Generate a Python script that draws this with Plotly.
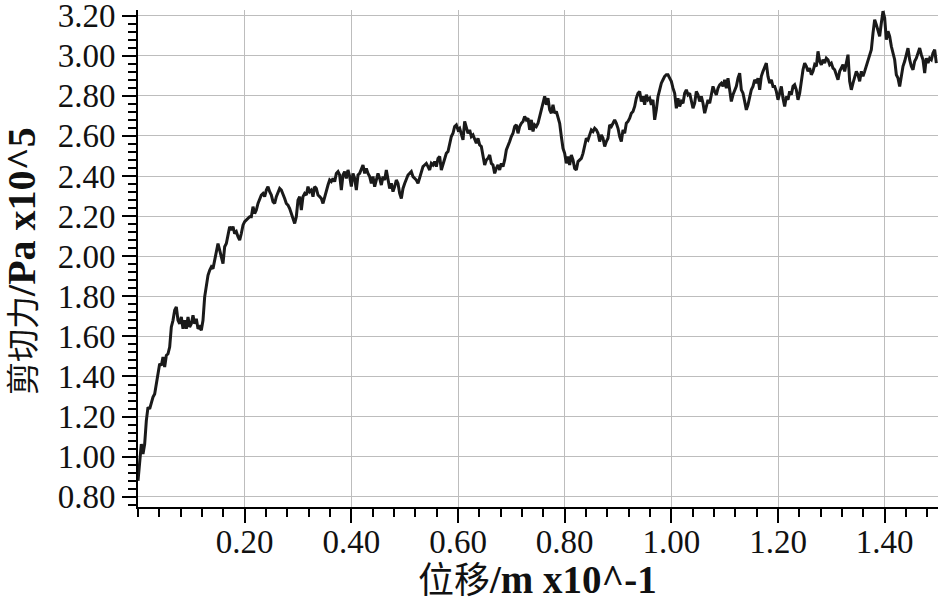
import plotly.graph_objects as go

# Sampling interval of the displacement record (x10^-1 m)
SAMPLE_STEP = 0.003125

# Shear force readings (x10^5 Pa), in order of displacement
shear_part1 = [
    0.88, 0.997, 1.063, 1.013, 1.063, 1.18, 1.247, 1.238, 1.272, 1.297,
    1.313, 1.363, 1.43, 1.463, 1.455, 1.497, 1.447, 1.505, 1.513, 1.547,
    1.647, 1.68, 1.73, 1.747, 1.68, 1.663, 1.697, 1.638, 1.68, 1.638,
    1.697, 1.647, 1.663, 1.705, 1.663, 1.688, 1.638, 1.647, 1.63, 1.68,
    1.797, 1.847, 1.905, 1.93, 1.947, 1.938, 1.98, 2.022, 2.063, 2.03,
    1.997, 1.963, 2.047, 2.063, 2.105, 2.147, 2.13, 2.147, 2.113, 2.122,
    2.097, 2.08, 2.113, 2.155, 2.172, 2.18, 2.188, 2.197, 2.197, 2.247,
    2.213, 2.23, 2.263, 2.288, 2.305, 2.313, 2.297, 2.33, 2.347, 2.322,
    2.305, 2.272, 2.263, 2.297, 2.322, 2.338, 2.33, 2.313, 2.288, 2.263,
    2.255, 2.238, 2.213, 2.188,
]
shear_part2 = [
    2.163, 2.197, 2.28, 2.297, 2.23, 2.297, 2.313, 2.305, 2.347, 2.322,
    2.33, 2.297, 2.347, 2.338, 2.305, 2.297, 2.288, 2.263, 2.297, 2.322,
    2.355, 2.38, 2.372, 2.388, 2.372, 2.413, 2.422, 2.405, 2.33, 2.405,
    2.422, 2.388, 2.43, 2.397, 2.347, 2.413, 2.388, 2.33, 2.405, 2.413,
    2.43, 2.455, 2.413, 2.438, 2.413, 2.397, 2.363, 2.397, 2.347, 2.388,
    2.413, 2.388, 2.355, 2.397, 2.38, 2.43, 2.372, 2.338, 2.363, 2.322,
    2.347, 2.38, 2.363, 2.313, 2.288, 2.338, 2.363, 2.38, 2.405, 2.413,
    2.422, 2.397, 2.388, 2.38, 2.363, 2.388, 2.413, 2.447, 2.455, 2.463,
    2.447, 2.43, 2.463, 2.455, 2.472, 2.447, 2.488, 2.497, 2.43, 2.455,
    2.48, 2.513, 2.522, 2.563, 2.597, 2.613,
]
shear_part3 = [
    2.647, 2.655, 2.63, 2.638, 2.613, 2.58, 2.672, 2.647, 2.613, 2.63,
    2.597, 2.605, 2.58, 2.563, 2.588, 2.555, 2.547, 2.497, 2.455, 2.48,
    2.488, 2.505, 2.463, 2.455, 2.413, 2.438, 2.455, 2.43, 2.463, 2.447,
    2.48, 2.53, 2.547, 2.572, 2.597, 2.613, 2.647, 2.655, 2.613, 2.647,
    2.663, 2.672, 2.697, 2.68, 2.688, 2.63, 2.68, 2.622, 2.655, 2.647,
    2.663, 2.697, 2.738, 2.763, 2.797, 2.755, 2.788, 2.73, 2.713, 2.755,
    2.713, 2.722, 2.697, 2.663, 2.597, 2.538, 2.513, 2.463, 2.497, 2.455,
    2.505, 2.48, 2.438, 2.43, 2.472, 2.48, 2.488, 2.513, 2.547, 2.588,
    2.58, 2.605, 2.63, 2.622, 2.638, 2.63, 2.613, 2.572, 2.605, 2.588,
    2.547, 2.572, 2.588, 2.655, 2.647, 2.663,
]
shear_part4 = [
    2.68, 2.663, 2.638, 2.597, 2.572, 2.63, 2.613, 2.663, 2.672, 2.688,
    2.713, 2.722, 2.747, 2.788, 2.813, 2.822, 2.772, 2.797, 2.755, 2.805,
    2.78, 2.788, 2.755, 2.78, 2.68, 2.73, 2.797, 2.83, 2.863, 2.88,
    2.897, 2.905, 2.905, 2.888, 2.872, 2.838, 2.813, 2.738, 2.788, 2.747,
    2.772, 2.763, 2.813, 2.83, 2.805, 2.813, 2.772, 2.738, 2.763, 2.822,
    2.805, 2.772, 2.797, 2.763, 2.713, 2.755, 2.78, 2.763, 2.813, 2.847,
    2.822, 2.805, 2.838, 2.855, 2.863, 2.847, 2.88, 2.838, 2.888, 2.822,
    2.772, 2.805, 2.83, 2.847, 2.888, 2.913, 2.83, 2.813, 2.772, 2.73,
    2.755, 2.788, 2.83, 2.847, 2.88, 2.863, 2.888, 2.83, 2.897, 2.922,
    2.947, 2.963, 2.897, 2.863, 2.88, 2.847,
]
shear_part5 = [
    2.847, 2.822, 2.78, 2.813, 2.847, 2.788, 2.747, 2.797, 2.78, 2.822,
    2.805, 2.847, 2.855, 2.83, 2.78, 2.813, 2.88, 2.93, 2.963, 2.947,
    2.922, 2.938, 2.905, 2.922, 2.955, 2.947, 3.022, 2.972, 2.955, 2.98,
    2.963, 2.988, 2.98, 2.955, 2.963, 2.938, 2.93, 2.905, 2.88, 2.922,
    2.938, 2.955, 2.922, 2.972, 3.005, 2.872, 2.83, 2.863, 2.897, 2.922,
    2.905, 2.872, 2.922, 2.897, 2.922, 2.947, 2.972, 2.997, 3.03, 3.113,
    3.18, 3.155, 3.122, 3.097, 3.163, 3.222, 3.188, 3.08, 3.122, 3.097,
    3.047, 3.005, 2.98, 2.905, 2.888, 2.847, 2.897, 2.947, 2.972, 3.005,
    3.038, 2.98, 2.947, 2.93, 2.972, 2.988, 3.013, 3.038, 3.005, 2.98,
    2.913, 2.988, 2.963, 2.988, 2.98, 3.013, 3.03, 2.963,
]

shear_force = shear_part1 + shear_part2 + shear_part3 + shear_part4 + shear_part5
displacement = [i * SAMPLE_STEP for i in range(len(shear_force))]

x_tick_vals = [0.20, 0.40, 0.60, 0.80, 1.00, 1.20, 1.40]
y_tick_vals = [0.80, 1.00, 1.20, 1.40, 1.60, 1.80, 2.00, 2.20, 2.40, 2.60, 2.80, 3.00, 3.20]

x_title = '<span style="font-size:36px">位移</span><b>/m x10^-1</b>'
y_title = '<span style="font-size:33px">剪切力</span><b>/Pa x10^5</b>'

FONT = "Liberation Serif, Times New Roman, Noto Sans CJK SC, serif"

fig = go.Figure()
fig.add_trace(go.Scatter(
    x=displacement, y=shear_force, mode="lines",
    line=dict(color="#1a1a1a", width=3),
    hoverinfo="skip", showlegend=False, cliponaxis=False,
))

axis_common = dict(
    showline=True, linecolor="black", linewidth=2,
    ticks="outside", ticklen=14, tickwidth=2, tickcolor="black",
    showgrid=True, gridcolor="#bdbdbd", gridwidth=1,
    zeroline=False, tickformat=".2f",
    tickfont=dict(family=FONT, size=33, color="#111111"),
    mirror=False, automargin=False, ticklabeloverflow="allow",
)

fig.update_xaxes(
    range=[0, 1.5], tickvals=x_tick_vals, ticklabelstandoff=-10,
    minor=dict(dtick=0.04, tick0=0, ticks="outside", ticklen=8, tickwidth=2,
               tickcolor="black", showgrid=False),
    **axis_common,
)
fig.update_yaxes(
    range=[0.749, 3.228], tickvals=y_tick_vals,
    minor=dict(dtick=0.04, tick0=0.8, ticks="outside", ticklen=8, tickwidth=2,
               tickcolor="black", showgrid=False),
    **axis_common,
)

# Axis titles as paper-anchored annotations for precise placement
fig.add_annotation(
    text=x_title, xref="paper", yref="paper", x=0.499, y=-0.145,
    xanchor="center", yanchor="middle", showarrow=False,
    font=dict(family=FONT, size=39, color="#111111"),
)
fig.add_annotation(
    text=y_title, xref="paper", yref="paper", x=-0.145, y=0.495,
    xanchor="center", yanchor="middle", showarrow=False, textangle=-90,
    font=dict(family=FONT, size=40, color="#111111"),
)

fig.update_layout(
    width=939, height=603,
    margin=dict(l=138, r=1, t=10, b=96),
    paper_bgcolor="white", plot_bgcolor="white",
)

fig.write_html("out.html", config={"displayModeBar": False},
               post_script="document.body.style.margin='0';")
